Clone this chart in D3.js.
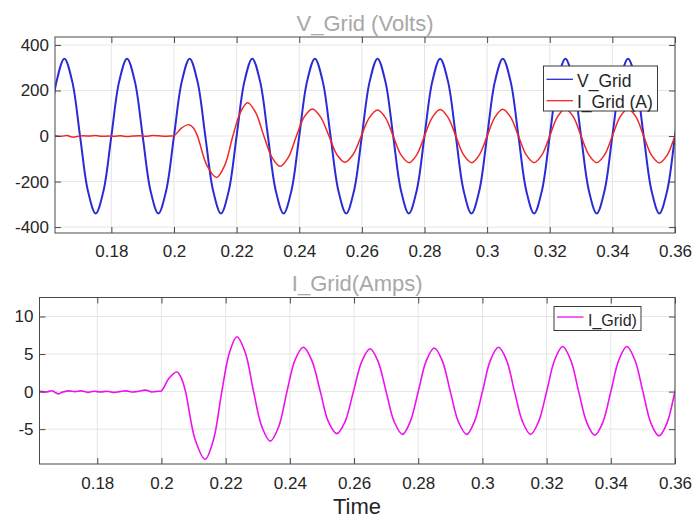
<!DOCTYPE html>
<html><head><meta charset="utf-8">
<script src="https://cdn.jsdelivr.net/npm/d3@7"></script>
<style>
body{margin:0;background:#fff}
svg{display:block}
text{font-family:"Liberation Sans",Arial,Helvetica,sans-serif}
</style>
</head><body>
<svg id="chart" width="692" height="518"></svg>
<script>
// ---------- data ----------
const timeTicks = [0.18,0.20,0.22,0.24,0.26,0.28,0.30,0.32,0.34,0.36];
const timeTickLabels = ["0.18","0.2","0.22","0.24","0.26","0.28","0.3","0.32","0.34","0.36"];
const voltTicks = [-400,-200,0,200,400];
const ampTicks = [-5,0,5,10];

// grid voltage samples (s, V)
const timeV = [0.1600,0.1625,0.1650,0.1675,0.1700,0.1725,0.1750,0.1775,
  0.1800,0.1825,0.1850,0.1875,0.1900,0.1925,0.1950,0.1975,
  0.2000,0.2025,0.2050,0.2075,0.2100,0.2125,0.2150,0.2175,
  0.2200,0.2225,0.2250,0.2275,0.2300,0.2325,0.2350,0.2375,
  0.2400,0.2425,0.2450,0.2475,0.2500,0.2525,0.2550,0.2575,
  0.2600,0.2625,0.2650,0.2675,0.2700,0.2725,0.2750,0.2775,
  0.2800,0.2825,0.2850,0.2875,0.2900,0.2925,0.2950,0.2975,
  0.3000,0.3025,0.3050,0.3075,0.3100,0.3125,0.3150,0.3175,
  0.3200,0.3225,0.3250,0.3275,0.3300,0.3325,0.3350,0.3375,
  0.3400,0.3425,0.3450,0.3475,0.3500,0.3525,0.3550,0.3575,
  0.3600,0.3625];
const vGrid = [0,240,340,240,0,-240,-340,-240,
  0,240,340,240,0,-240,-340,-240,
  0,240,340,240,0,-240,-340,-240,
  0,240,340,240,0,-240,-340,-240,
  0,240,340,240,0,-240,-340,-240,
  0,240,340,240,0,-240,-340,-240,
  0,240,340,240,0,-240,-340,-240,
  0,240,340,240,0,-240,-340,-240,
  0,240,340,240,0,-240,-340,-240,
  0,240,340,240,0,-240,-340,-240,
  0,240];

// grid current samples (s)
const timeI = [0.1600,0.1620,0.1640,0.1660,0.1670,0.1680,0.1690,0.1710,0.1730,0.1750,
  0.1770,0.1790,0.1810,0.1830,0.1850,0.1870,0.1890,0.1910,0.1930,0.1950,0.1970,0.1990,
  0.2000,0.2024,0.2048,0.2062,0.2075,0.2105,0.2136,0.2162,0.2188,0.2212,0.2235,0.2261,
  0.2287,0.2313,0.2339,0.2365,0.2391,0.2416,0.2442,0.2468,0.2495,0.2520,0.2546,0.2572,
  0.2598,0.2624,0.2650,0.2675,0.2700,0.2725,0.2751,0.2775,0.2800,0.2825,0.2850,0.2875,
  0.2900,0.2925,0.2951,0.2975,0.3000,0.3025,0.3050,0.3075,0.3100,0.3125,0.3150,0.3175,
  0.3200,0.3225,0.3250,0.3275,0.3300,0.3325,0.3350,0.3375,0.3400,0.3425,0.3450,0.3475,
  0.3500,0.3525,0.3550,0.3575,0.3600,0.3625];
// I_Grid (A) as drawn on the voltage panel
const iGridTop = [0,1,-1,2,-3,-5,-2,1,0,2,
  -1,0,-1,1,-2,0,1,-1,2,1,-1,0,
  1,35,50,35,0,-129,-182,-129,0,103,146,103,
  0,-94,-133,-94,0,84,119,84,0,-81,-115,-81,
  0,81,114,81,0,-83,-117,-83,0,82,116,82,
  0,-83,-117,-83,0,83,118,83,0,-83,-117,-83,
  0,85,120,85,0,-83,-117,-83,0,85,120,85,
  0,-84,-118,-84,0,84];
// I_Grid in amps (lower panel)
const iGrid = [0,0.05,-0.05,0.1,-0.15,-0.3,-0.1,0.1,0,0.1,
  -0.1,0.05,-0.05,0.05,-0.1,0,0.1,-0.05,0.05,0.2,-0.05,0.05,
  0.1,1.8,2.6,1.8,0,-6.4,-9.0,-6.4,0,5.2,7.3,5.2,
  0,-4.7,-6.6,-4.7,0,4.2,5.9,4.2,0,-4.0,-5.6,-4.0,
  0,4.0,5.7,4.0,0,-4.0,-5.7,-4.0,0,4.1,5.8,4.1,
  0,-4.0,-5.7,-4.0,0,4.2,5.9,4.2,0,-4.0,-5.7,-4.0,
  0,4.2,6.0,4.2,0,-4.1,-5.8,-4.1,0,4.2,6.0,4.2,
  0,-4.2,-5.9,-4.2,0,4.2];

// ---------- drawing ----------
const svg = d3.select("#chart");
const AX = "#4a4a4a", GRID = "#e6e6e6", TXT = "#262626";

function panel(cfg){
  const x = d3.scaleLinear().domain([0.162,0.36]).range([cfg.left,cfg.right]);
  const y = d3.scaleLinear().domain(cfg.yDomain).range([cfg.bottom,cfg.top]);
  const g = svg.append("g");
  const id = "clip"+cfg.name;
  svg.append("defs").append("clipPath").attr("id",id).append("rect")
    .attr("x",cfg.left).attr("y",cfg.top).attr("width",cfg.right-cfg.left).attr("height",cfg.bottom-cfg.top);

  // grid
  g.append("g").selectAll("line").data(timeTicks).join("line")
    .attr("x1",d=>x(d)).attr("x2",d=>x(d)).attr("y1",cfg.top).attr("y2",cfg.bottom)
    .attr("stroke",GRID).attr("stroke-width",1);
  g.append("g").selectAll("line").data(cfg.yTicks).join("line")
    .attr("y1",d=>y(d)).attr("y2",d=>y(d)).attr("x1",cfg.left).attr("x2",cfg.right)
    .attr("stroke",GRID).attr("stroke-width",1);

  // series
  const sg = g.append("g").attr("clip-path",`url(#${id})`);
  cfg.series.forEach(s=>{
    const line = d3.line().x((d,i)=>x(s.t[i])).y(d=>y(d)).curve(d3.curveCatmullRom);
    sg.append("path").attr("d",line(s.v)).attr("fill","none")
      .attr("stroke",s.color).attr("stroke-width",s.width).attr("stroke-linejoin","round");
  });

  // axes (ticks inward)
  const style = sel=>{
    sel.select(".domain").remove();
    sel.selectAll(".tick line").attr("stroke",AX);
    sel.selectAll(".tick text").attr("fill",TXT).style("font-size","17px");
  };
  g.append("g").attr("transform",`translate(0,${cfg.bottom})`)
    .call(d3.axisBottom(x).tickValues(timeTicks).tickFormat((d,i)=>timeTickLabels[i])
      .tickSizeInner(-6).tickSizeOuter(0).tickPadding(cfg.xPad)).call(style);
  g.append("g").attr("transform",`translate(0,${cfg.top})`)
    .call(d3.axisTop(x).tickValues(timeTicks).tickFormat("").tickSizeInner(-6).tickSizeOuter(0)).call(style);
  g.append("g").attr("transform",`translate(${cfg.left},0)`)
    .call(d3.axisLeft(y).tickValues(cfg.yTicks).tickFormat(d=>String(d))
      .tickSizeInner(-6).tickSizeOuter(0).tickPadding(6)).call(style);
  g.append("g").attr("transform",`translate(${cfg.right},0)`)
    .call(d3.axisRight(y).tickValues(cfg.yTicks).tickFormat("").tickSizeInner(-6).tickSizeOuter(0)).call(style);

  // frame
  g.append("rect").attr("x",cfg.left).attr("y",cfg.top)
    .attr("width",cfg.right-cfg.left).attr("height",cfg.bottom-cfg.top)
    .attr("fill","none").attr("stroke",AX).attr("stroke-width",1);

  // title
  svg.append("text").attr("x",(cfg.left+cfg.right)/2).attr("y",cfg.titleY)
    .attr("text-anchor","middle").attr("fill","#a8a8a8").style("font-size","22px").text(cfg.title);

  // legend
  const L = cfg.legend;
  const lg = svg.append("g");
  lg.append("rect").attr("x",L.x).attr("y",L.y).attr("width",L.w).attr("height",L.h)
    .attr("fill","#fff").attr("stroke","#3a3a3a").attr("stroke-width",1);
  L.items.forEach((it,i)=>{
    const ly = L.y + L.first + i*L.step;
    lg.append("line").attr("x1",L.x+3).attr("x2",L.x+29.5).attr("y1",ly).attr("y2",ly)
      .attr("stroke",it.color).attr("stroke-width",1.3);
    lg.append("text").attr("x",L.x+L.tx).attr("y",ly+L.ty)
      .attr("fill",TXT).style("font-size",L.fs+"px").text(it.label);
  });
}

panel({
  name:"top", left:55, right:675, top:37, bottom:233,
  yDomain:[-426,435], yTicks:voltTicks, xPad:12,
  title:"V_Grid (Volts)", titleY:31,
  series:[
    {t:timeV, v:vGrid, color:"#2b2bd6", width:2},
    {t:timeI, v:iGridTop, color:"#f02828", width:1.5}
  ],
  legend:{x:543.5,y:66,w:114,h:45,first:13.3,step:21.4,fs:17.5,tx:33.5,ty:7.5,
    items:[{label:"V_Grid",color:"#2b2bd6"},{label:"I_Grid (A)",color:"#f02828"}]}
});

panel({
  name:"bot", left:39.5, right:675, top:297.5, bottom:464,
  yDomain:[-9.64,12.53], yTicks:ampTicks, xPad:13,
  title:"I_Grid(Amps)", titleY:291,
  series:[
    {t:timeI, v:iGrid, color:"#ee10ee", width:1.6}
  ],
  legend:{x:554,y:306.5,w:87,h:24,first:10.5,step:0,fs:16,tx:34,ty:8.5,
    items:[{label:"I_Grid)",color:"#ee10ee"}]}
});

svg.append("text").attr("x",357).attr("y",514).attr("text-anchor","middle")
  .attr("fill",TXT).style("font-size","22px").text("Time");
</script>
</body></html>
